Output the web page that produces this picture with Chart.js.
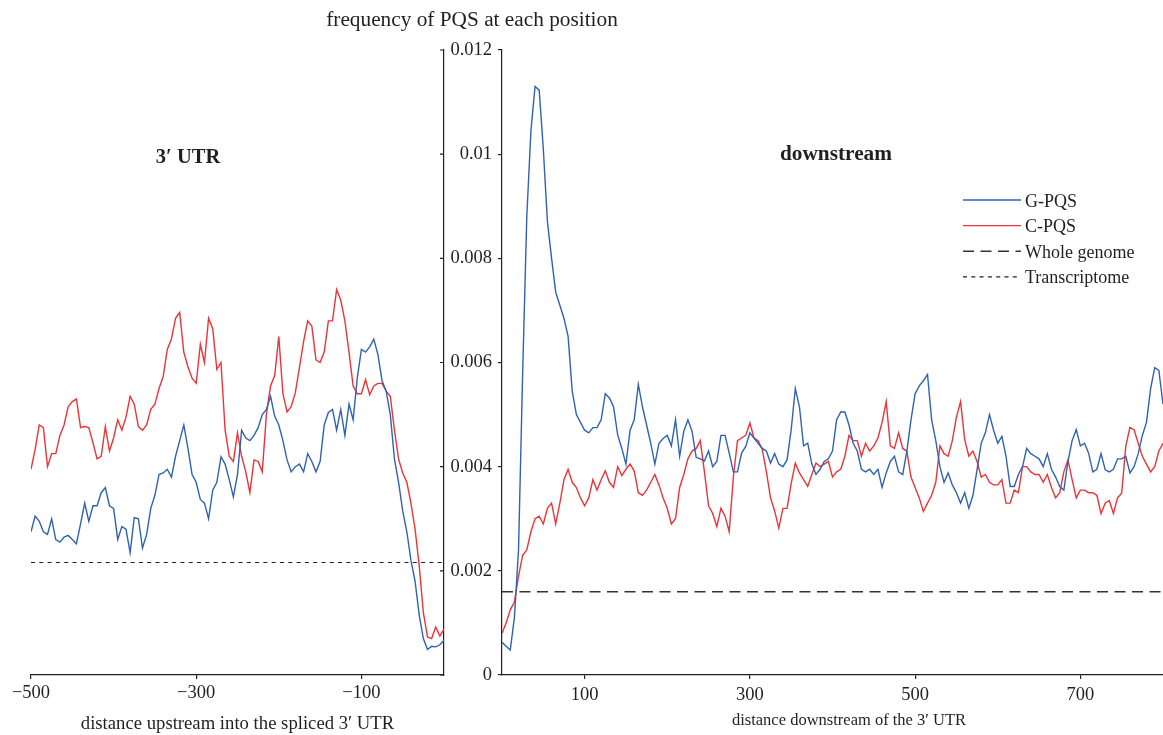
<!DOCTYPE html>
<html>
<head>
<meta charset="utf-8">
<title>frequency of PQS at each position</title>
<script src="https://cdn.jsdelivr.net/npm/chart.js@4.4.1/dist/chart.umd.min.js"></script>
<style>
  html, body { margin: 0; padding: 0; background: #fff; }
  #wrap { position: relative; width: 1163px; height: 735px; }
  #wrap canvas { position: absolute; left: 0; top: 0; }
</style>
</head>
<body>
<div id="wrap">
  <canvas id="upstreamChart" width="1163" height="735"></canvas>
  <canvas id="downstreamChart" width="1163" height="735"></canvas>
</div>
<script>
// positions in nt, frequencies in units of 10^-3
const upstreamPos = [
  -500, -495, -490, -485, -480, -475, -470, -465, -460, -455,
  -450, -445, -440, -435, -430, -425, -420, -415, -410, -405,
  -400, -395, -390, -385, -380, -375, -370, -365, -360, -355,
  -350, -345, -340, -335, -330, -325, -320, -315, -310, -305,
  -300, -295, -290, -285, -280, -275, -270, -265, -260, -255,
  -250, -245, -240, -235, -230, -225, -220, -215, -210, -205,
  -200, -195, -190, -185, -180, -175, -170, -165, -160, -155,
  -150, -145, -140, -135, -130, -125, -120, -115, -110, -105,
  -100, -95, -90, -85, -80, -75, -70, -65, -60, -55,
  -50, -45, -40, -35, -30, -25, -20, -15, -10, -5, 0
];
const gpqsUpstream = [
  2.75, 3.05, 2.95, 2.75, 2.7, 3.0, 2.6, 2.55, 2.65, 2.68,
  2.6, 2.52, 2.9, 3.3, 2.95, 3.25, 3.25, 3.5, 3.6, 3.25,
  3.2, 2.6, 2.85, 2.8, 2.35, 3.02, 3.0, 2.44, 2.7, 3.2,
  3.45, 3.85, 3.88, 3.95, 3.8, 4.2, 4.5, 4.8, 4.35, 3.85,
  3.7, 3.37, 3.3, 3.0, 3.55, 3.7, 4.19, 4.05, 3.75, 3.42,
  3.85, 4.7, 4.55, 4.5, 4.6, 4.75, 5.0, 5.1, 5.35, 4.97,
  4.8, 4.5, 4.13, 3.9, 4.0, 4.05, 3.9, 4.25, 4.1, 3.9,
  4.1, 4.8, 5.04, 5.1, 4.7, 5.1, 4.6, 5.2, 4.9, 5.7,
  6.25, 6.2, 6.3, 6.45, 6.15, 5.65, 5.45, 5.0, 4.15, 3.7,
  3.15, 2.75, 2.2, 1.8, 1.15, 0.7, 0.49, 0.55, 0.54, 0.58, 0.67
];
const cpqsUpstream = [
  3.95, 4.33, 4.8, 4.75, 4.0, 4.25, 4.25, 4.6, 4.8, 5.15,
  5.25, 5.3, 4.75, 4.77, 4.75, 4.46, 4.15, 4.2, 4.77, 4.3,
  4.55, 4.9, 4.7, 4.95, 5.35, 5.2, 4.77, 4.7, 4.8, 5.1,
  5.2, 5.5, 5.73, 6.25, 6.45, 6.85, 6.96, 6.2, 5.92, 5.7,
  5.6, 6.35, 6.0, 6.85, 6.65, 5.87, 6.0, 4.7, 4.2, 4.1,
  4.65, 4.2, 3.9, 3.5, 4.13, 4.1, 3.9, 5.0, 5.55, 5.75,
  6.5, 5.4, 5.05, 5.15, 5.42, 5.9, 6.4, 6.8, 6.7, 6.05,
  6.0, 6.2, 6.8, 6.8, 7.4, 7.2, 6.8, 6.2, 5.55, 5.4,
  5.4, 5.67, 5.38, 5.55, 5.6, 5.6, 5.45, 5.35, 4.7, 4.15,
  3.88, 3.7, 3.3, 2.8, 2.1, 1.2, 0.73, 0.7, 0.92, 0.75, 0.88
];

const downstreamPos = [
  0, 5, 10, 15, 20, 25, 30, 35, 40, 45,
  50, 55, 60, 65, 70, 75, 80, 85, 90, 95,
  100, 105, 110, 115, 120, 125, 130, 135, 140, 145,
  150, 155, 160, 165, 170, 175, 180, 185, 190, 195,
  200, 205, 210, 215, 220, 225, 230, 235, 240, 245,
  250, 255, 260, 265, 270, 275, 280, 285, 290, 295,
  300, 305, 310, 315, 320, 325, 330, 335, 340, 345,
  350, 355, 360, 365, 370, 375, 380, 385, 390, 395,
  400, 405, 410, 415, 420, 425, 430, 435, 440, 445,
  450, 455, 460, 465, 470, 475, 480, 485, 490, 495,
  500, 505, 510, 515, 520, 525, 530, 535, 540, 545,
  550, 555, 560, 565, 570, 575, 580, 585, 590, 595,
  600, 605, 610, 615, 620, 625, 630, 635, 640, 645,
  650, 655, 660, 665, 670, 675, 680, 685, 690, 695,
  700, 705, 710, 715, 720, 725, 730, 735, 740, 745,
  750, 755, 760, 765, 770, 775, 780, 785, 790, 795, 800
];
const gpqsDownstream = [
  0.63, 0.55, 0.48, 1.1, 2.4, 5.8, 8.8, 10.45, 11.3, 11.23,
  10.1, 8.7, 8.0, 7.35, 7.1, 6.85, 6.5, 5.45, 5.0, 4.85,
  4.7, 4.65, 4.75, 4.75, 4.9, 5.4, 5.32, 5.15, 4.61, 4.35,
  4.05, 4.7, 4.9, 5.58, 5.15, 4.8, 4.45, 4.05, 4.45, 4.54,
  4.6, 4.4, 4.9, 4.2, 4.68, 4.9, 4.68, 4.18, 4.15, 4.11,
  4.3, 4.0, 4.1, 4.6, 4.6, 4.26, 3.9, 3.9, 4.26, 4.39,
  4.65, 4.55, 4.45, 4.35, 4.3, 4.07, 4.25, 4.05, 4.0, 4.13,
  4.71, 5.5, 5.15, 4.4, 4.45, 4.05, 3.85, 3.95, 4.1, 4.15,
  4.3, 4.9, 5.05, 5.05, 4.8, 4.45, 4.3, 3.95, 3.9, 3.95,
  3.85, 3.95, 3.6, 3.88, 4.1, 4.2, 3.9, 3.85, 4.3, 4.9,
  5.4, 5.55, 5.65, 5.77, 4.9, 4.5, 4.0, 3.7, 3.88, 3.65,
  3.5, 3.3, 3.5, 3.2, 3.45, 3.95, 4.45, 4.65, 5.0, 4.7,
  4.45, 4.58, 4.2, 3.62, 3.62, 3.85, 4.0, 4.35, 4.25, 4.2,
  4.15, 4.0, 4.25, 3.95, 3.8, 3.62, 3.55, 4.1, 4.5, 4.71,
  4.4, 4.45, 4.26, 3.9, 3.95, 4.25, 3.94, 3.9, 3.95, 4.15,
  4.15, 4.2, 3.88, 4.0, 4.25, 4.6, 4.85, 5.5, 5.9, 5.85, 5.2
];
const cpqsDownstream = [
  0.8, 1.0, 1.25, 1.4, 1.9, 2.3, 2.4, 2.75, 3.0, 3.05,
  2.9, 3.2, 3.3, 2.9, 3.3, 3.75, 3.95, 3.7, 3.6, 3.4,
  3.25, 3.4, 3.75, 3.55, 3.75, 3.92, 3.7, 3.6, 4.0, 3.83,
  3.95, 4.05, 3.92, 3.5, 3.45, 3.55, 3.7, 3.85, 3.65, 3.4,
  3.2, 2.9, 3.0, 3.6, 3.85, 4.15, 4.3, 4.35, 4.5, 3.9,
  3.25, 3.1, 2.85, 3.2, 3.05, 2.75, 3.8, 4.5, 4.55, 4.6,
  4.84, 4.55, 4.5, 4.33, 3.9, 3.4, 3.15, 2.82, 3.2, 3.2,
  3.68, 4.07, 3.88, 3.75, 3.62, 3.85, 4.07, 4.0, 4.05, 4.1,
  3.8, 3.9, 3.95, 4.2, 4.6, 4.5, 4.5, 4.2, 4.45, 4.3,
  4.4, 4.55, 4.85, 5.25, 4.4, 4.35, 4.65, 4.35, 4.3, 3.8,
  3.6, 3.4, 3.14, 3.3, 3.45, 3.7, 4.4, 4.25, 4.2, 4.5,
  4.95, 5.25, 4.52, 4.2, 4.3, 4.1, 3.8, 3.85, 3.7, 3.65,
  3.65, 3.75, 3.3, 3.3, 3.55, 3.5, 4.0, 4.0, 3.9, 3.85,
  3.85, 3.7, 3.85, 3.6, 3.4, 3.5, 3.9, 4.13, 3.75, 3.4,
  3.55, 3.55, 3.5, 3.5, 3.45, 3.1, 3.3, 3.35, 3.1, 3.4,
  3.49, 4.4, 4.75, 4.71, 4.45, 4.2, 4.05, 3.9, 4.0, 4.3, 4.45
];
const transcriptomeLevel = 2.16;
const wholeGenomeLevel = 1.6;

const yTickValues = [0, 0.002, 0.004, 0.006, 0.008, 0.01, 0.012];
const yTickLabels = ['0', '0.002', '0.004', '0.006', '0.008', '0.01', '0.012'];
const upstreamTickValues = [-500, -300, -100];
const upstreamTickLabels = ['\u2212500', '\u2212300', '\u2212100'];
const downstreamTickValues = [100, 300, 500, 700];
const downstreamTickLabels = ['100', '300', '500', '700'];

const BLUE = '#2f62b4';
const RED = '#ec3338';
const INK = '#231f20';
const SERIF = '"Liberation Serif", "Times New Roman", serif';

Chart.defaults.font.family = SERIF;
Chart.defaults.color = INK;

const toPoints = (xs, ys) => xs.map((x, i) => ({ x, y: ys[i] / 1000 }));
const flatLine = (xs, level) => [
  { x: xs[0], y: level / 1000 },
  { x: xs[xs.length - 1], y: level / 1000 }
];

const styles = {
  g: { label: 'G-PQS', borderColor: BLUE, borderWidth: 1.4, borderDash: [] },
  c: { label: 'C-PQS', borderColor: RED, borderWidth: 1.4, borderDash: [] },
  genome: { label: 'Whole genome', borderColor: '#333333', borderWidth: 1.5, borderDash: [11, 6.5] },
  transcriptome: { label: 'Transcriptome', borderColor: INK, borderWidth: 1.2, borderDash: [4, 4.3] }
};

const makeDataset = (style, data) => ({
  ...style,
  data,
  pointRadius: 0,
  tension: 0,
  fill: false
});

const fixedTicks = (values) => (scale) => {
  scale.ticks = values.map(v => ({ value: v }));
};

// inward ticks on the left panel's y axis line
const innerYTicks = {
  id: 'innerYTicks',
  afterDraw(chart) {
    const { ctx, chartArea } = chart;
    const y = chart.scales.y;
    ctx.save();
    ctx.strokeStyle = INK;
    ctx.lineWidth = 1.2;
    ctx.beginPath();
    y.ticks.forEach(t => {
      const py = y.getPixelForValue(t.value);
      ctx.moveTo(chartArea.right - 4, py);
      ctx.lineTo(chartArea.right, py);
    });
    ctx.stroke();
    ctx.restore();
  }
};

// free text: title, panel names, right axis title and the legend
const figureText = {
  id: 'figureText',
  afterDraw(chart, args, opts) {
    const ctx = chart.ctx;
    ctx.save();
    ctx.fillStyle = INK;
    ctx.textBaseline = 'alphabetic';
    opts.texts.forEach(t => {
      ctx.font = t.font;
      ctx.textAlign = t.align || 'center';
      ctx.fillText(t.text, t.x, t.y);
    });
    const lg = opts.legend;
    ctx.font = lg.font;
    ctx.textAlign = 'left';
    lg.items.forEach((item, i) => {
      const ly = lg.y + i * lg.rowHeight;
      ctx.strokeStyle = item.borderColor;
      ctx.lineWidth = item.borderWidth;
      ctx.setLineDash(item.borderDash);
      ctx.beginPath();
      ctx.moveTo(lg.x, ly);
      ctx.lineTo(lg.x + lg.lineLength, ly);
      ctx.stroke();
      ctx.setLineDash([]);
      ctx.fillText(item.label, lg.x + lg.lineLength + 4, ly + 6.5);
    });
    ctx.restore();
  }
};

const axisGrid = { drawOnChartArea: false, drawTicks: true, tickLength: 4, color: INK, lineWidth: 1.2 };
const axisBorder = { display: true, color: INK, width: 1.2 };

new Chart(document.getElementById('upstreamChart'), {
  type: 'line',
  data: {
    datasets: [
      makeDataset(styles.g, toPoints(upstreamPos, gpqsUpstream)),
      makeDataset(styles.c, toPoints(upstreamPos, cpqsUpstream)),
      makeDataset(styles.transcriptome, flatLine(upstreamPos, transcriptomeLevel))
    ]
  },
  plugins: [innerYTicks],
  options: {
    responsive: false,
    animation: false,
    devicePixelRatio: 1,
    layout: { padding: { left: 31, right: 719, top: 50, bottom: 0 } },
    plugins: { legend: { display: false }, tooltip: { enabled: false } },
    scales: {
      x: {
        type: 'linear',
        position: 'bottom',
        min: -500,
        max: 0,
        afterBuildTicks: fixedTicks(upstreamTickValues),
        afterFit: s => { s.height = 60; },
        grid: axisGrid,
        border: axisBorder,
        ticks: {
          font: { size: 18.5 },
          padding: 3,
          maxRotation: 0,
          autoSkip: false,
          callback: (v, i) => upstreamTickLabels[i]
        },
        title: {
          display: true,
          text: 'distance upstream into the spliced 3\u2032 UTR',
          font: { size: 18.7 },
          padding: { top: 0, bottom: 0 }
        }
      },
      y: {
        type: 'linear',
        position: 'right',
        min: 0,
        max: 0.012,
        afterBuildTicks: fixedTicks(yTickValues),
        afterFit: s => { s.width = 0; },
        grid: { display: false },
        border: axisBorder,
        ticks: { display: false }
      }
    }
  }
});

new Chart(document.getElementById('downstreamChart'), {
  type: 'line',
  data: {
    datasets: [
      makeDataset(styles.g, toPoints(downstreamPos, gpqsDownstream)),
      makeDataset(styles.c, toPoints(downstreamPos, cpqsDownstream)),
      makeDataset(styles.genome, flatLine(downstreamPos, wholeGenomeLevel))
    ]
  },
  plugins: [figureText],
  options: {
    responsive: false,
    animation: false,
    devicePixelRatio: 1,
    layout: { padding: { left: 440, right: 0, top: 50, bottom: 0 } },
    plugins: {
      legend: { display: false },
      tooltip: { enabled: false },
      figureText: {
        texts: [
          { text: 'frequency of PQS at each position', x: 472, y: 26, font: '21.3px ' + SERIF },
          { text: '3\u2032 UTR', x: 188, y: 163, font: 'bold 20.5px ' + SERIF },
          { text: 'downstream', x: 836, y: 160, font: 'bold 21.3px ' + SERIF },
          { text: 'distance downstream of the 3\u2032 UTR', x: 849, y: 725, font: '16.5px ' + SERIF }
        ],
        legend: {
          x: 963,
          y: 200,
          rowHeight: 25.6,
          lineLength: 58,
          font: '18px ' + SERIF,
          items: [styles.g, styles.c, styles.genome, styles.transcriptome]
        }
      }
    },
    scales: {
      x: {
        type: 'linear',
        position: 'bottom',
        min: 0,
        max: 800,
        afterBuildTicks: fixedTicks(downstreamTickValues),
        afterFit: s => { s.height = 60; },
        grid: axisGrid,
        border: axisBorder,
        ticks: {
          font: { size: 18.5 },
          padding: 5,
          maxRotation: 0,
          autoSkip: false,
          callback: (v, i) => downstreamTickLabels[i]
        }
      },
      y: {
        type: 'linear',
        position: 'left',
        min: 0,
        max: 0.012,
        afterBuildTicks: fixedTicks(yTickValues),
        afterFit: s => { s.width = 62; },
        grid: axisGrid,
        border: axisBorder,
        ticks: {
          font: { size: 18.5 },
          padding: 6,
          callback: (v, i) => yTickLabels[i]
        }
      }
    }
  }
});
</script>
</body>
</html>
